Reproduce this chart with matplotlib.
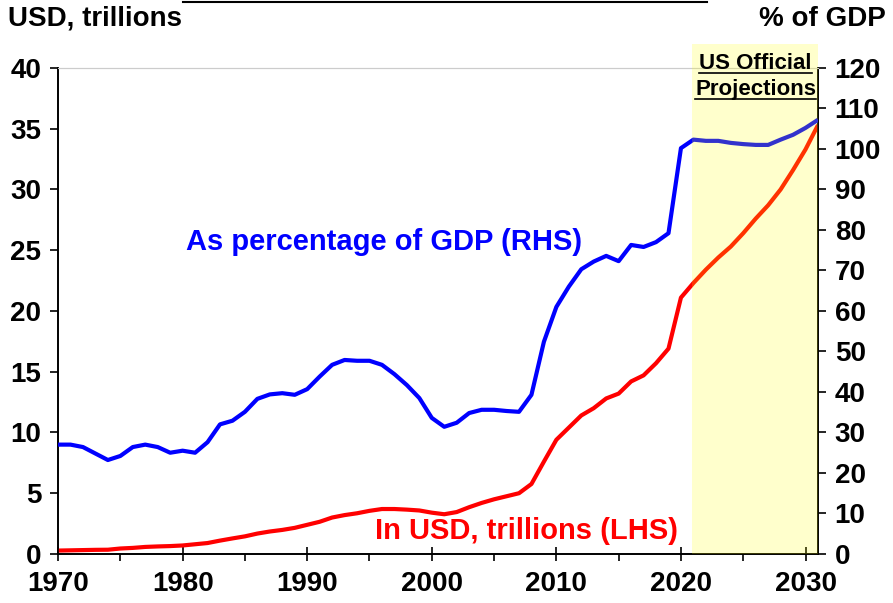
import matplotlib
matplotlib.use("Agg")
import matplotlib.pyplot as plt
from matplotlib.patches import Rectangle
from matplotlib.lines import Line2D

# data
years = list(range(1970, 2032))

debt_usd = [0.28, 0.30, 0.32, 0.34, 0.35, 0.45, 0.50, 0.58, 0.62, 0.65,
            0.70, 0.80, 0.90, 1.10, 1.28, 1.45, 1.68, 1.85, 1.98, 2.15,
            2.40, 2.65, 3.00, 3.20, 3.35, 3.55, 3.70, 3.70, 3.65, 3.58,
            3.40, 3.27, 3.45, 3.85, 4.20, 4.50, 4.75, 5.00, 5.76, 7.60,
            9.40, 10.40, 11.40, 12.00, 12.80, 13.20, 14.20, 14.70, 15.70, 16.90,
            21.10, 22.30, 23.40, 24.40, 25.30, 26.40, 27.60, 28.70, 30.00, 31.60,
            33.30, 35.30]

debt_pct_gdp = [27.0, 27.0, 26.4, 24.8, 23.2, 24.2, 26.4, 27.0, 26.4, 25.0,
                25.5, 25.0, 27.6, 32.0, 32.9, 35.1, 38.3, 39.4, 39.7, 39.3,
                40.7, 43.8, 46.7, 47.9, 47.7, 47.7, 46.7, 44.4, 41.7, 38.5,
                33.6, 31.4, 32.4, 34.8, 35.6, 35.6, 35.3, 35.1, 39.3, 52.4,
                61.0, 66.0, 70.3, 72.2, 73.6, 72.3, 76.3, 75.8, 77.0, 79.2,
                100.2, 102.3, 102.0, 102.0, 101.5, 101.2, 101.0, 101.0, 102.3, 103.5,
                105.2, 107.2]

x_ticks = [1970, 1980, 1990, 2000, 2010, 2020, 2030]
lhs_ticks = [0, 5, 10, 15, 20, 25, 30, 35, 40]
rhs_ticks = [0, 10, 20, 30, 40, 50, 60, 70, 80, 90, 100, 110, 120]
projection_start = 2020.9
projection_end = 2031

plt.rcParams['font.family'] = ['Liberation Sans', 'DejaVu Sans']
plt.rcParams['font.weight'] = 'bold'

fig = plt.figure(figsize=(8.93, 6.03), dpi=100)
ax = fig.add_axes([0.065, 0.0813, 0.851, 0.806])
ax2 = ax.twinx()

ax.plot(years, debt_usd, color='#ff0000', lw=3, solid_capstyle='butt', zorder=3)
ax2.plot(years, debt_pct_gdp, color='#0000ff', lw=3, solid_capstyle='butt', zorder=3)

ax.set_xlim(1970, 2031)
ax.set_ylim(0, 40)
ax2.set_ylim(0, 120)
ax.set_xticks(x_ticks)
ax.set_xticks(range(1975, 2031, 10), minor=True)
ax.set_yticks(lhs_ticks)
ax2.set_yticks(rhs_ticks)

for a in (ax, ax2):
    a.spines['top'].set_color('#cccccc')
    a.spines['top'].set_linewidth(0.8)
    for s in ('left', 'right', 'bottom'):
        a.spines[s].set_linewidth(1.2)
        a.spines[s].set_color('black')
    a.tick_params(axis='y', direction='out', length=6, width=1.2, labelsize=20, pad=6)

ax.tick_params(axis='x', which='major', direction='inout', length=10, width=1.2,
               labelsize=20, pad=7)
ax.tick_params(axis='x', which='minor', direction='out', length=5, width=1.2)
for lab in ax.get_xticklabels() + ax.get_yticklabels() + ax2.get_yticklabels():
    lab.set_fontweight('bold')

# shaded projection window, drawn over the lines like the original
shade = Rectangle((projection_start, 0), projection_end - projection_start, 126,
                  facecolor='#ffff00', alpha=0.2, edgecolor='none',
                  clip_on=False, zorder=5)
ax2.add_patch(shade)

t1 = ax2.text(2026.0, 121.2, 'US Official', ha='center', va='center', fontsize=16,
              fontweight='bold', zorder=6)
t2 = ax2.text(2026.0, 114.7, 'Projections', ha='center', va='center', fontsize=16,
              fontweight='bold', zorder=6)

ax.text(1996.2, 25.7, 'As percentage of GDP (RHS)', color='#0000ff', ha='center',
        va='center', fontsize=21, fontweight='bold')
ax.text(2007.6, 1.9, 'In USD, trillions (LHS)', color='#ff0000', ha='center',
        va='center', fontsize=21, fontweight='bold')

fig.text(0.009, 0.969, 'USD, trillions', ha='left', va='center', fontsize=20,
         fontweight='bold')
fig.text(0.992, 0.969, '% of GDP', ha='right', va='center', fontsize=20,
         fontweight='bold')

# thin frame line at the very top of the picture
fig.add_artist(Line2D([183 / 893, 707 / 893], [0.997, 0.997], color='black', lw=1.5))

# underline the projection labels
fig.canvas.draw()
renderer = fig.canvas.get_renderer()
inv = fig.transFigure.inverted()
for t in (t1, t2):
    bb = t.get_window_extent(renderer)
    (x0, y0), (x1, _) = inv.transform([(bb.x0, bb.y0), (bb.x1, bb.y1)])
    fig.add_artist(Line2D([x0, x1], [y0 + 0.001, y0 + 0.001], color='black', lw=1.2))

fig.savefig('out.png', dpi=100)
